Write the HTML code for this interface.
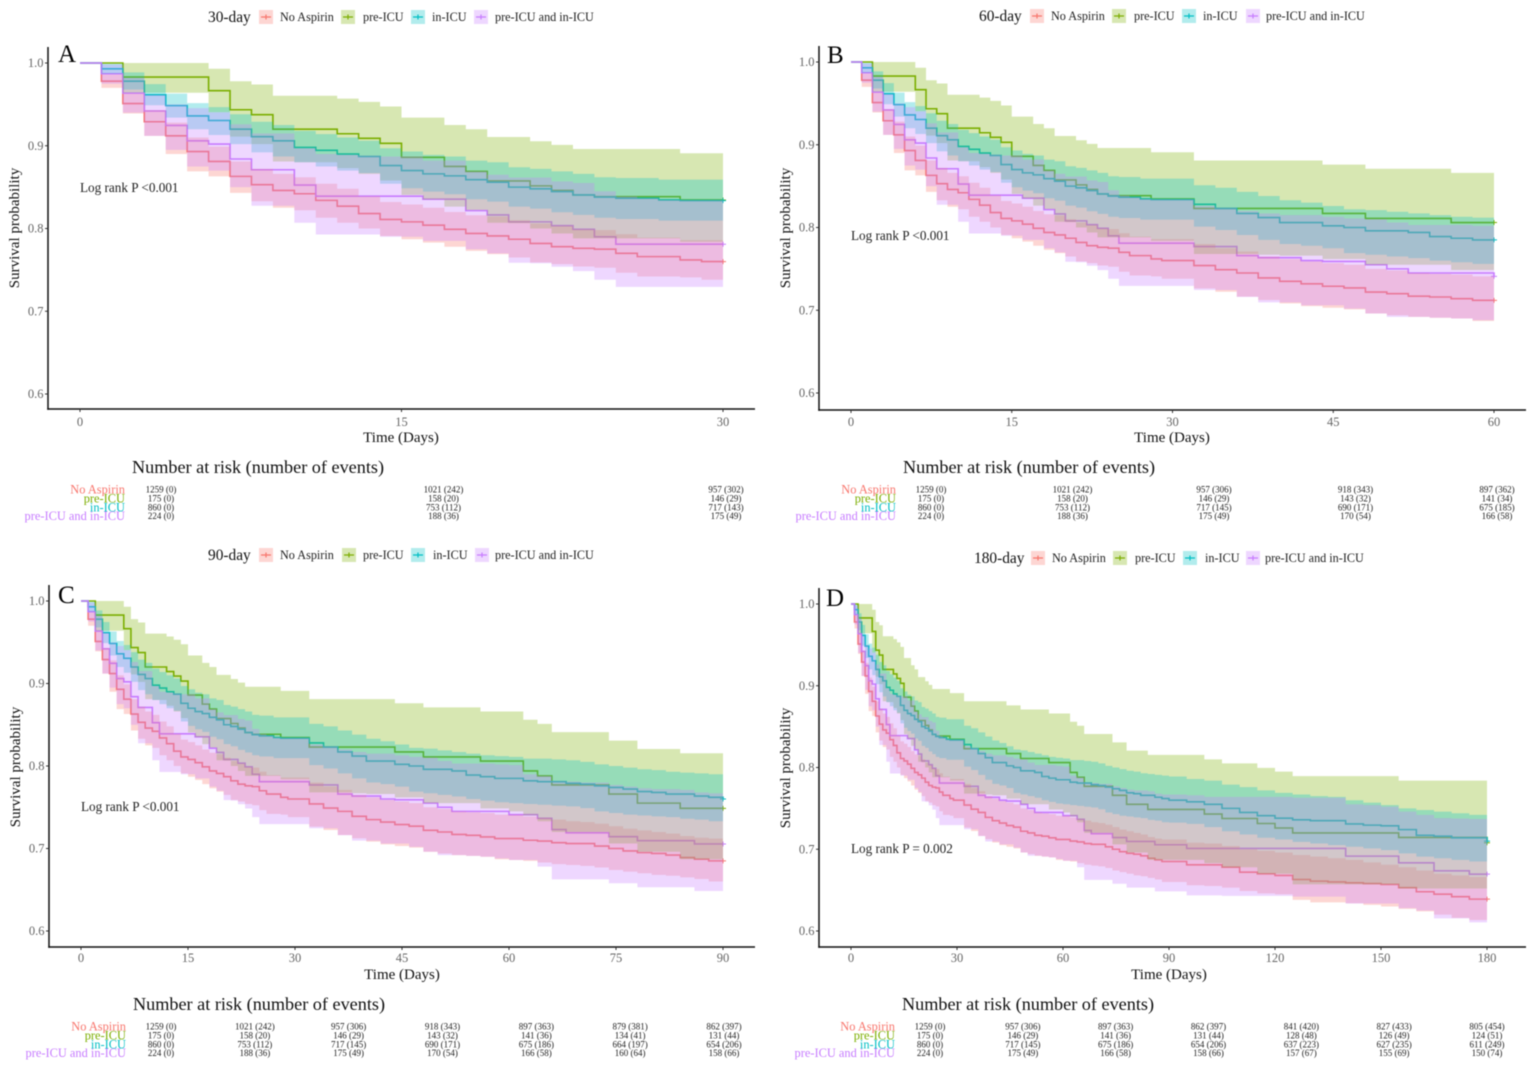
<!DOCTYPE html>
<html lang="en">
<head>
<meta charset="utf-8">
<title>Kaplan-Meier survival curves by aspirin use</title>
<style>
html,body{margin:0;padding:0;background:#fff;width:1535px;height:1068px;overflow:hidden}
svg{display:block;filter:blur(0.4px)}
text{font-family:"Liberation Serif",serif}
</style>
</head>
<body>
<svg id="fig" xmlns="http://www.w3.org/2000/svg" width="1535" height="1068" viewBox="0 0 1535 1068"></svg>
<script>
// ---- shared follow-up grid (days) ----
const days = [0,1,2,3,4,5,6,7,8,9,10,11,12,13,14,15,16,17,18,19,20,21,22,23,24,25,26,27,28,29,30,
32,34,36,38,40,42,44,46,48,50,52,54,56,58,60,
62,64,66,68,70,72,74,76,78,80,82,84,86,88,90,
95,100,105,110,115,120,125,130,135,140,145,150,155,160,165,170,175,180];

// ---- No Aspirin ----
const noAspirinSurv = [1,.978,.951,.929,.912,.893,.881,.863,.853,.846,.842,.834,.827,.818,.811,.808,.804,.799,.794,.791,.787,.782,.778,.776,.775,.770,.766,.766,.762,.760,.760,
.754,.749,.745,.739,.735,.732,.729,.727,.722,.720,.717,.716,.714,.712,.712,
.710,.709,.707,.706,.706,.703,.700,.697,.695,.694,.692,.689,.687,.685,.685,
.681,.681,.678,.672,.670,.668,.663,.661,.660,.659,.658,.657,.653,.648,.645,.642,.639,.639];
const noAspirinLower = [1,.970,.939,.912,.890,.869,.863,.843,.833,.825,.822,.813,.807,.800,.791,.787,.783,.778,.773,.769,.765,.759,.757,.754,.7525,.7465,.742,.742,.741,.738,.738,
.7265,.7224,.7164,.7124,.7083,.705,.703,.701,.696,.694,.692,.691,.690,.687,.686,
.685,.683,.681,.680,.679,.677,.674,.672,.670,.668,.667,.665,.663,.660,.660,
.656,.655,.653,.649,.646,.645,.638,.635,.635,.634,.632,.630,.627,.624,.620,.616,.6135,.6135];
const noAspirinUpper = [1,.986,.963,.943,.928,.910,.899,.881,.872,.866,.862,.854,.848,.839,.832,.829,.825,.820,.816,.8143,.810,.806,.803,.799,.798,.793,.789,.789,.786,.786,.786,
.780,.775,.771,.765,.762,.759,.757,.755,.750,.748,.745,.744,.743,.741,.741,
.739,.737,.735,.733,.732,.730,.727,.724,.722,.720,.718,.715,.713,.712,.712,
.708,.707,.704,.700,.698,.696,.693,.691,.689,.687,.684,.681,.678,.674,.670,.668,.666,.666];

// ---- pre-ICU ----
const preIcuSurv = [1,1,.983,.983,.983,.983,.9665,.9435,.9375,.920,.920,.920,.9145,.909,.903,.886,.886,.875,.869,.8575,.8575,.8515,.846,.8405,.8385,.8385,.8385,.8385,.8345,.8345,.8345,
.823,.823,.823,.823,.823,.823,.817,.817,.811,.811,.811,.811,.806,.806,.806,
.794,.788,.777,.777,.777,.777,.766,.766,.755,.755,.755,.7487,.7487,.7487,.7487,
.7487,.743,.7376,.7376,.7315,.726,.72,.72,.72,.72,.72,.72,.7144,.7144,.7144,.7144,.7144,.708];
const preIcuLower = [1,1,.964,.964,.964,.964,.9405,.911,.902,.881,.880,.880,.873,.866,.858,.8406,.835,.8265,.8224,.807,.8065,.800,.794,.788,.788,.788,.788,.788,.784,.784,.784,
.768,.768,.768,.767,.766,.766,.762,.762,.755,.755,.755,.755,.7486,.7486,.745,
.74,.733,.72,.72,.72,.72,.706,.706,.696,.696,.696,.687,.687,.687,.687,
.687,.683,.678,.678,.67,.67,.657,.657,.657,.657,.657,.657,.652,.652,.652,.652,.652,.644];
const preIcuUpper = [1,1,1,1,1,1,.993,.978,.974,.9605,.9605,.9605,.957,.953,.9475,.934,.934,.925,.920,.9105,.9105,.9055,.901,.896,.896,.896,.896,.896,.891,.891,.891,
.881,.881,.881,.881,.881,.881,.876,.876,.871,.871,.871,.871,.866,.866,.866,
.856,.851,.841,.841,.841,.841,.8307,.8307,.8206,.8206,.8206,.8154,.8154,.8154,.8154,
.8154,.81,.805,.805,.7996,.795,.7894,.7894,.7894,.7894,.7894,.7894,.784,.784,.784,.784,.784,.779];

// ---- in-ICU ----
const inIcuSurv = [1,.993,.978,.9615,.9485,.936,.9305,.920,.911,.906,.898,.8945,.890,.887,.876,.870,.866,.8636,.859,.856,.850,.848,.8446,.8406,.838,.8366,.8366,.8345,.8337,.8337,.8337,
.828,.823,.817,.812,.806,.806,.802,.800,.796,.796,.794,.789,.787,.785,.785,
.782,.781,.781,.779,.778,.776,.774,.772,.769,.768,.766,.766,.7636,.762,.760,
.758,.755,.750,.745,.741,.738,.736,.735,.735,.731,.7295,.7287,.724,.717,.716,.714,.714,.710];
const inIcuLower = [1,.987,.968,.949,.934,.920,.913,.902,.892,.887,.880,.875,.870,.867,.854,.8487,.8446,.8414,.8354,.8325,.8265,.824,.8196,.8164,.813,.8115,.8115,.8095,.8095,.8095,.8095,
.801,.797,.791,.785,.780,.778,.775,.769,.767,.765,.763,.760,.758,.756,.755,
.754,.753,.752,.751,.749,.745,.743,.741,.740,.739,.738,.736,.735,.733,.7325,
.731,.727,.722,.718,.714,.712,.709,.707,.705,.703,.701,.699,.695,.691,.689,.687,.685,.6806];
const inIcuUpper = [1,.999,.9887,.9745,.963,.9515,.9467,.938,.929,.925,.918,.914,.910,.906,.897,.893,.889,.887,.882,.880,.874,.872,.869,.866,.862,.861,.861,.859,.859,.859,.859,
.851,.848,.843,.838,.833,.830,.826,.822,.821,.819,.817,.815,.813,.812,.811,
.809,.809,.808,.807,.805,.802,.800,.798,.796,.795,.793,.792,.791,.790,.789,
.786,.784,.779,.776,.772,.769,.767,.765,.764,.760,.757,.754,.750,.748,.746,.744,.742,.7417];

// ---- pre-ICU and in-ICU ----
const bothSurv = [1,.987,.9636,.942,.9245,.906,.902,.884,.871,.871,.8525,.839,.839,.839,.839,.839,.8354,.8354,.8216,.8164,.808,.808,.8034,.799,.790,.781,.781,.781,.781,.781,.781,
.777,.777,.766,.7635,.7635,.760,.759,.759,.755,.750,.745,.745,.745,.745,.741,
.741,.7366,.723,.719,.719,.719,.7143,.7143,.7095,.7095,.7095,.7095,.7055,.7055,.7055,
.701,.701,.701,.701,.701,.701,.701,.701,.701,.6916,.6916,.6916,.6834,.6834,.6736,.6736,.6695,.6695];
const bothLower = [1,.975,.94,.912,.895,.875,.87,.85,.8275,.8275,.807,.7927,.7927,.7927,.79,.79,.785,.785,.775,.77,.7586,.758,.7537,.7485,.738,.7295,.7295,.7295,.7295,.7295,.7295,
.7245,.7245,.716,.7095,.7095,.706,.706,.702,.696,.692,.692,.691,.69,.688,.686,
.686,.678,.6626,.6626,.6626,.6626,.6578,.6578,.653,.653,.653,.653,.6485,.6485,.6485,
.6436,.6436,.643,.643,.643,.643,.642,.642,.642,.6337,.6337,.6337,.628,.625,.6155,.6155,.6105,.6105];
const bothUpper = [1,.998,.982,.9615,.950,.9455,.9405,.926,.915,.915,.897,.89,.889,.888,.887,.887,.882,.882,.869,.865,.8616,.8616,.857,.855,.845,.8387,.8366,.8345,.834,.834,.834,
.826,.824,.820,.817,.815,.815,.813,.811,.810,.806,.803,.803,.803,.802,.801,
.79,.788,.782,.781,.78,.78,.777,.775,.773,.772,.772,.771,.768,.767,.767,
.766,.764,.764,.764,.764,.764,.763,.763,.763,.755,.754,.752,.746,.742,.738,.7376,.737,.7336];

// ---- tick labels ----
const yTicks = [1.0,0.9,0.8,0.7,0.6];
const xTicksA = [0,15,30];
const xTicksB = [0,15,30,45,60];
const xTicksC = [0,15,30,45,60,75,90];
const xTicksD = [0,30,60,90,120,150,180];
const seriesNames = ["No Aspirin","pre-ICU","in-ICU","pre-ICU and in-ICU"];

// ---- numbers at risk (events) ----
const riskA_noAspirin = ["1259 (0)","1021 (242)","957 (302)"];
const riskA_preIcu = ["175 (0)","158 (20)","146 (29)"];
const riskA_inIcu = ["860 (0)","753 (112)","717 (143)"];
const riskA_both = ["224 (0)","188 (36)","175 (49)"];
const riskB_noAspirin = ["1259 (0)","1021 (242)","957 (306)","918 (343)","897 (362)"];
const riskB_preIcu = ["175 (0)","158 (20)","146 (29)","143 (32)","141 (34)"];
const riskB_inIcu = ["860 (0)","753 (112)","717 (145)","690 (171)","675 (185)"];
const riskB_both = ["224 (0)","188 (36)","175 (49)","170 (54)","166 (58)"];
const riskC_noAspirin = ["1259 (0)","1021 (242)","957 (306)","918 (343)","897 (363)","879 (381)","862 (397)"];
const riskC_preIcu = ["175 (0)","158 (20)","146 (29)","143 (32)","141 (36)","134 (41)","131 (44)"];
const riskC_inIcu = ["860 (0)","753 (112)","717 (145)","690 (171)","675 (186)","664 (197)","654 (206)"];
const riskC_both = ["224 (0)","188 (36)","175 (49)","170 (54)","166 (58)","160 (64)","158 (66)"];
const riskD_noAspirin = ["1259 (0)","957 (306)","897 (363)","862 (397)","841 (420)","827 (433)","805 (454)"];
const riskD_preIcu = ["175 (0)","146 (29)","141 (36)","131 (44)","128 (48)","126 (49)","124 (51)"];
const riskD_inIcu = ["860 (0)","717 (145)","675 (186)","654 (206)","637 (223)","627 (235)","611 (249)"];
const riskD_both = ["224 (0)","175 (49)","166 (58)","158 (66)","157 (67)","155 (69)","150 (74)"];

// ---- series bundle and styling ----
const series = [
  {key:"no-aspirin", color:"#F8766D", surv:noAspirinSurv, lower:noAspirinLower, upper:noAspirinUpper},
  {key:"pre-icu", color:"#7CAE00", surv:preIcuSurv, lower:preIcuLower, upper:preIcuUpper},
  {key:"in-icu", color:"#00BFC4", surv:inIcuSurv, lower:inIcuLower, upper:inIcuUpper},
  {key:"pre-icu-and-in-icu", color:"#C77CFF", surv:bothSurv, lower:bothLower, upper:bothUpper}
];

// ---- panel layout ----
const panels = [
  {id:"a",letter:"A",legendTitle:"30-day",T:30,x0:80,x1:723,y1:63,y6:394,axL:48,axT:47,axB:409,axR:755,xTicks:xTicksA,
   letterX:58,letterY:62,logText:"Log rank P <0.001",logX:80,logY:192,
   legY:17,legTitleX:208,swX:[259,341,411,474],txX:[280,363,432,495],
   tickY:426,timeX:401,timeY:442,yTitleX:19,yTitleY:228,
   headX:132,headY:473,rowY:[490,499,508,516.5],rowLabelR:125,rx0:161,rx1:726,
   risk:[riskA_noAspirin,riskA_preIcu,riskA_inIcu,riskA_both]},
  {id:"b",letter:"B",legendTitle:"60-day",T:60,x0:851,x1:1494,y1:62,y6:393,axL:819,axT:46,axB:410,axR:1526,xTicks:xTicksB,
   letterX:827,letterY:63,logText:"Log rank P <0.001",logX:851,logY:240,
   legY:16,legTitleX:979,swX:[1030,1112,1182,1246],txX:[1051,1134,1203,1266],
   tickY:426,timeX:1172,timeY:442,yTitleX:790,yTitleY:228,
   headX:903,headY:473,rowY:[490,499,508,516.5],rowLabelR:896,rx0:931,rx1:1497,
   risk:[riskB_noAspirin,riskB_preIcu,riskB_inIcu,riskB_both]},
  {id:"c",letter:"C",legendTitle:"90-day",T:90,x0:81,x1:723,y1:601,y6:931,axL:49,axT:585,axB:947,axR:755,xTicks:xTicksC,
   letterX:58,letterY:603,logText:"Log rank P <0.001",logX:81,logY:811,
   legY:555,legTitleX:208,swX:[259,342,411,475],txX:[280,363,433,495],
   tickY:962,timeX:402,timeY:979,yTitleX:20,yTitleY:767,
   headX:133,headY:1010,rowY:[1027,1036,1045,1053.5],rowLabelR:126,rx0:161,rx1:724,
   risk:[riskC_noAspirin,riskC_preIcu,riskC_inIcu,riskC_both]},
  {id:"d",letter:"D",legendTitle:"180-day",T:180,x0:851,x1:1487,y1:604,y6:931,axL:819,axT:588,axB:947,axR:1526,xTicks:xTicksD,
   letterX:826,letterY:606,logText:"Log rank P = 0.002",logX:851,logY:853,
   legY:558,legTitleX:974,swX:[1031,1113,1183,1246],txX:[1052,1135,1205,1265],
   tickY:962,timeX:1169,timeY:979,yTitleX:790,yTitleY:768,
   headX:902,headY:1010,rowY:[1027,1036,1045,1053.5],rowLabelR:895,rx0:930,rx1:1487,
   risk:[riskD_noAspirin,riskD_preIcu,riskD_inIcu,riskD_both]}
];

const NS = "http://www.w3.org/2000/svg";
const fig = document.getElementById("fig");

function make(tag, attrs, parent, content) {
  const el = document.createElementNS(NS, tag);
  for (const k in attrs) el.setAttribute(k, attrs[k]);
  if (content !== undefined) el.textContent = content;
  parent.appendChild(el);
  return el;
}

function stepForward(xs, ys) {
  let d = "";
  for (let i = 0; i < xs.length; i++) {
    if (i === 0) d += "M" + xs[0].toFixed(2) + " " + ys[0].toFixed(2);
    else d += "H" + xs[i].toFixed(2) + "V" + ys[i].toFixed(2);
  }
  return d;
}

function drawPanel(p) {
  const xScale = t => p.x0 + (t / p.T) * (p.x1 - p.x0);
  const yScale = s => p.y1 + ((1 - s) / 0.4) * (p.y6 - p.y1);
  const riskScale = t => p.rx0 + (t / p.T) * (p.rx1 - p.rx0);
  const idx = [];
  days.forEach((d, i) => { if (d <= p.T) idx.push(i); });
  const xs = idx.map(i => xScale(days[i]));

  const g = make("g", {}, fig);
  
  

  // survival lines first, confidence ribbons over them
  series.forEach(s => {
    const line = make("path", {d: stepForward(xs, idx.map(i => yScale(s.surv[i]))), fill:"none", stroke:s.color, "stroke-width":1.6}, g);
    
    
    const endX = xScale(p.T);
    const endY = yScale(s.surv[idx[idx.length - 1]]);
    const mark = make("path", {d: "M" + (endX - 3) + " " + endY + "H" + (endX + 3) + "M" + endX + " " + (endY - 2.5) + "V" + (endY + 2.5), fill:"none", stroke:s.color, "stroke-width":1}, g);
    
    
  });
  series.forEach(s => {
    const up = stepForward(xs, idx.map(i => yScale(s.upper[i])));
    let back = "";
    for (let j = idx.length - 1; j >= 0; j--) {
      back += "L" + xs[j].toFixed(2) + " " + yScale(s.lower[idx[j]]).toFixed(2);
      if (j > 0) back += "L" + xs[j].toFixed(2) + " " + yScale(s.lower[idx[j - 1]]).toFixed(2);
    }
    const rib = make("path", {d: up + back + "Z", fill:s.color, "fill-opacity":0.3, stroke:"none"}, g);
    
    
  });

  // axes
  const yAxis = make("line", {x1:p.axL, x2:p.axL, y1:p.axT, y2:p.axB + 0.75, stroke:"#111", "stroke-width":1.5}, g);
  
  
  const xAxis = make("line", {x1:p.axL - 0.75, x2:p.axR, y1:p.axB, y2:p.axB, stroke:"#111", "stroke-width":1.5}, g);
  
  

  yTicks.forEach(v => {
    const py = yScale(v);
    const tk = make("line", {x1:p.axL - 3, x2:p.axL, y1:py, y2:py, stroke:"#333", "stroke-width":1}, g);
    
    
    const lb = make("text", {x:p.axL - 4.5, y:py + 4, "text-anchor":"end", "font-size":12.5, fill:"#666"}, g, v.toFixed(1));
    
    
  });
  p.xTicks.forEach(v => {
    const px = xScale(v);
    const tk = make("line", {x1:px, x2:px, y1:p.axB, y2:p.axB + 3, stroke:"#333", "stroke-width":1}, g);
    
    
    const lb = make("text", {x:px, y:p.tickY, "text-anchor":"middle", "font-size":12.5, fill:"#666"}, g, String(v));
    
    
  });

  const xTitle = make("text", {x:p.timeX, y:p.timeY, "text-anchor":"middle", "font-size":15, fill:"#111"}, g, "Time (Days)");
  
  
  const yTitle = make("text", {x:0, y:0, "text-anchor":"middle", "font-size":15, fill:"#111", transform:"translate(" + p.yTitleX + " " + p.yTitleY + ") rotate(-90)"}, g, "Survival probability");
  
  

  const letter = make("text", {x:p.letterX, y:p.letterY, "font-size":25, fill:"#000"}, g, p.letter);
  
  
  const logRank = make("text", {x:p.logX, y:p.logY, "font-size":13.2, fill:"#222"}, g, p.logText);
  
  

  // legend
  const legend = make("g", {}, g);
  
  
  const legTitle = make("text", {x:p.legTitleX, y:p.legY + 5, "font-size":15.4, fill:"#111"}, legend, p.legendTitle);
  
  
  series.forEach((s, i) => {
    const sw = make("rect", {x:p.swX[i], y:p.legY - 7, width:14, height:14, fill:s.color, "fill-opacity":0.3}, legend);
    
    
    const cx = p.swX[i] + 7;
    const glyph = make("path", {d:"M" + (cx - 5) + " " + p.legY + "H" + (cx + 5) + "M" + cx + " " + (p.legY - 2.5) + "V" + (p.legY + 2.5), stroke:s.color, "stroke-width":1.2, fill:"none"}, legend);
    
    
    const tx = make("text", {x:p.txX[i], y:p.legY + 4, "font-size":12.2, fill:"#222"}, legend, seriesNames[i]);
    
    
  });

  // risk table
  const table = make("g", {}, g);
  
  
  const head = make("text", {x:p.headX, y:p.headY, "font-size":18.2, fill:"#111"}, table, "Number at risk (number of events)");
  
  
  series.forEach((s, r) => {
    const rl = make("text", {x:p.rowLabelR, y:p.rowY[r] + 3.5, "text-anchor":"end", "font-size":12.4, fill:s.color}, table, seriesNames[r]);
    
    
    const vals = p.risk[r];
    vals.forEach((v, c) => {
      const t = p.T * c / (vals.length - 1);
      const cell = make("text", {x:riskScale(t), y:p.rowY[r] + 2.5, "text-anchor":"middle", "font-size":9, fill:"#222"}, table, v);
      
      
    });
  });
}

panels.forEach(drawPanel);
</script>
</body>
</html>
